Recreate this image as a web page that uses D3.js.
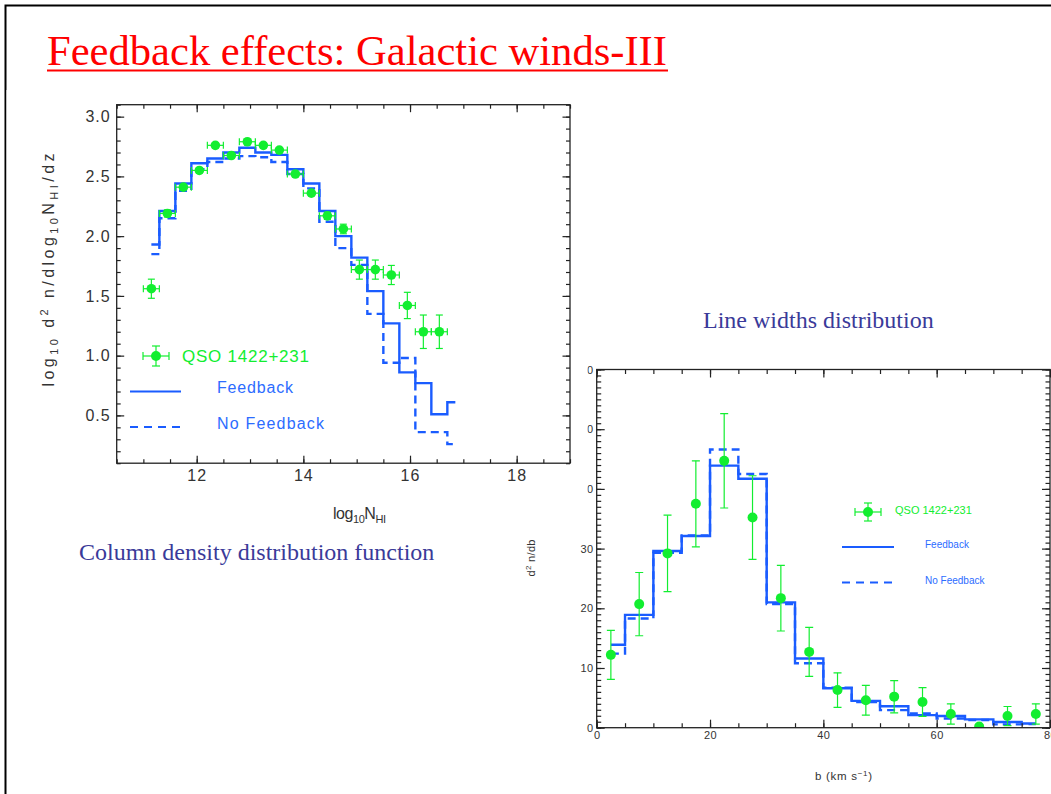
<!DOCTYPE html>
<html lang="en">
<head>
  <meta charset="UTF-8">
  <title>Feedback effects: Galactic winds-III</title>
  <script src="https://d3js.org/d3.v7.min.js"></script>
  <style>
    body { margin: 0; background: #fff; }
    svg { display: block; }
  </style>
</head>
<body>
<script>
// column density distribution (bin centres, 0.3 dex bins)
const nhiCenters = [11.15, 11.45, 11.75, 12.05, 12.35, 12.65, 12.95, 13.25, 13.55, 13.85,
                    14.15, 14.45, 14.75, 15.05, 15.35, 15.65, 15.95, 16.25, 16.55, 16.85];
const nhiFeedback   = [1.93, 2.21, 2.44, 2.61, 2.65, 2.70, 2.74, 2.70, 2.68, 2.56,
                       2.44, 2.21, 2.00, 1.82, 1.54, 1.27, 0.86, 0.77, 0.51, 0.61];
const nhiNoFeedback = [1.85, 2.15, 2.38, 2.56, 2.62, 2.65, 2.67, 2.66, 2.62, 2.52,
                       2.40, 2.12, 1.90, 1.76, 1.35, 0.94, 0.98, 0.36, 0.36, 0.26];
const qsoNhiX   = [11.15, 11.45, 11.75, 12.05, 12.35, 12.65, 12.95, 13.25, 13.55, 13.85,
                   14.15, 14.45, 14.75, 15.05, 15.35, 15.65, 15.95, 16.25, 16.55];
const qsoNhiY   = [1.56, 2.19, 2.41, 2.55, 2.76, 2.675, 2.79, 2.76, 2.72, 2.52,
                   2.36, 2.17, 2.06, 1.72, 1.72, 1.675, 1.42, 1.20, 1.20];
const qsoNhiErr = [0.08, 0.03, 0.02, 0.02, 0.02, 0.02, 0.02, 0.02, 0.02, 0.02,
                   0.02, 0.03, 0.04, 0.08, 0.08, 0.08, 0.11, 0.14, 0.14];
const nhiXTicks = [12, 14, 16, 18];
const nhiYTicks = [0.5, 1.0, 1.5, 2.0, 2.5, 3.0];

// line widths distribution (5 km/s bins)
const bCenters = [2.5, 7.5, 12.5, 17.5, 22.5, 27.5, 32.5, 37.5,
                  42.5, 47.5, 52.5, 57.5, 62.5, 67.5, 72.5, 77.5];
const bFeedback   = [13.9, 18.9, 29.6, 32.1, 43.9, 41.7, 21.0, 11.6,
                     6.6, 4.5, 3.6, 2.1, 1.95, 1.4, 0.95, 0.7];
const bNoFeedback = [12.4, 18.3, 29.3, 32.2, 46.6, 42.5, 20.7, 10.8,
                     6.7, 4.3, 2.95, 2.4, 1.55, 1.3, 0.55, 0.6];
const qsoB    = [12.2, 20.7, 29.2, 37.5, 44.7, 35.2, 21.7, 12.7,
                 6.3, 4.6, 5.2, 4.3, 2.3, 0.2, 1.95, 2.3];
const qsoBErr = [4.1, 5.3, 6.4, 7.2, 7.9, 7.0, 5.5, 4.1,
                 2.9, 2.5, 2.7, 2.4, 1.7, 0.0, 1.6, 1.7];
const bXTicks = [0, 20, 40, 60, 80];
const bYTicks = [0, 10, 20, 30, 40, 50, 60];

const green = "#12ee30";
const blue = "#1a5cff";
const textBlue = "#2c6cff";
const navy = "#3a3a99";
const sans = "Liberation Sans, Arial, sans-serif";
const serif = "Liberation Serif, Times New Roman, serif";

const svg = d3.select("body").append("svg")
  .attr("width", 1051)
  .attr("height", 794);

svg.append("rect").attr("width", 1051).attr("height", 794).attr("fill", "#fff");

// slide border
svg.append("path")
  .attr("d", "M5.5,794 V5.5 H1051")
  .attr("fill", "none")
  .attr("stroke", "#000")
  .attr("stroke-width", 2);

// title
svg.append("text")
  .attr("x", 47).attr("y", 65)
  .attr("font-family", serif)
  .attr("font-size", 42)
  .attr("fill", "#ff0000")
  .attr("textLength", 620)
  .attr("lengthAdjust", "spacingAndGlyphs")
  .text("Feedback effects: Galactic winds-III");
svg.append("line")
  .attr("x1", 47).attr("x2", 668).attr("y1", 70.5).attr("y2", 70.5)
  .attr("stroke", "#ff0000").attr("stroke-width", 2.2);

// draws a boxed frame with inward ticks on all four sides
function frame(g, x, y, o) {
  const [x0, x1] = x.range();
  const [y0, y1] = y.range();
  const sides = [
    { axis: d3.axisBottom(x), t: `translate(0,${y0})`, vals: o.xMinor, len: o.minor, lab: false },
    { axis: d3.axisBottom(x), t: `translate(0,${y0})`, vals: o.xMajor, len: o.major, lab: true },
    { axis: d3.axisTop(x), t: `translate(0,${y1})`, vals: o.xMinor, len: o.minor, lab: false },
    { axis: d3.axisTop(x), t: `translate(0,${y1})`, vals: o.xMajor, len: o.major, lab: false },
    { axis: d3.axisLeft(y), t: `translate(${x0},0)`, vals: o.yMinor, len: o.minor, lab: false },
    { axis: d3.axisLeft(y), t: `translate(${x0},0)`, vals: o.yMajor, len: o.major, lab: true, left: true },
    { axis: d3.axisRight(y), t: `translate(${x1},0)`, vals: o.yMinor, len: o.minor, lab: false },
    { axis: d3.axisRight(y), t: `translate(${x1},0)`, vals: o.yMajor, len: o.major, lab: false }
  ];
  sides.forEach(s => {
    const a = s.axis.tickValues(s.vals).tickSize(-s.len).tickPadding(s.left ? o.ypad : o.xpad);
    a.tickFormat(s.lab ? (s.left ? o.yFmt : o.xFmt) : "");
    const ag = g.append("g").attr("transform", s.t).call(a);
    ag.select(".domain").remove();
    ag.selectAll("line").attr("stroke", "#222").attr("stroke-width", 1.2);
    ag.selectAll("text")
      .attr("font-family", sans)
      .attr("font-size", o.fs)
      .attr("letter-spacing", o.ls || 0)
      .attr("fill", "#333");
  });
  g.append("rect")
    .attr("x", x0).attr("y", y1)
    .attr("width", x1 - x0).attr("height", y0 - y1)
    .attr("fill", "none").attr("stroke", "#222").attr("stroke-width", 1.3);
}

function errorPoints(g, data, x, y, o) {
  const pts = g.append("g").selectAll("g").data(data).join("g");
  pts.append("line")
    .attr("x1", d => x(d.x)).attr("x2", d => x(d.x))
    .attr("y1", d => y(d.y - d.e)).attr("y2", d => y(d.y + d.e))
    .attr("stroke", green).attr("stroke-width", 1.2);
  pts.filter(d => d.e > 0).selectAll(".cap").data(d => [[d.x, d.y - d.e], [d.x, d.y + d.e]]).join("line")
    .attr("x1", d => x(d[0]) - o.cap).attr("x2", d => x(d[0]) + o.cap)
    .attr("y1", d => y(d[1])).attr("y2", d => y(d[1]))
    .attr("stroke", green).attr("stroke-width", 1.2);
  if (o.xe) {
    pts.append("line")
      .attr("x1", d => x(d.x - o.xe)).attr("x2", d => x(d.x + o.xe))
      .attr("y1", d => y(d.y)).attr("y2", d => y(d.y))
      .attr("stroke", green).attr("stroke-width", 1.2);
    pts.selectAll(".xcap").data(d => [[d.x - o.xe, d.y], [d.x + o.xe, d.y]]).join("line")
      .attr("x1", d => x(d[0])).attr("x2", d => x(d[0]))
      .attr("y1", d => y(d[1]) - o.cap).attr("y2", d => y(d[1]) + o.cap)
      .attr("stroke", green).attr("stroke-width", 1.2);
  }
  pts.append("circle")
    .attr("cx", d => x(d.x)).attr("cy", d => y(d.y))
    .attr("r", o.r).attr("fill", green);
}

function legendDot(g, cx, cy, hx, hy, r) {
  g.append("line").attr("x1", cx - hx).attr("x2", cx + hx).attr("y1", cy).attr("y2", cy)
    .attr("stroke", green).attr("stroke-width", 1.2);
  g.append("line").attr("x1", cx).attr("x2", cx).attr("y1", cy - hy).attr("y2", cy + hy)
    .attr("stroke", green).attr("stroke-width", 1.2);
  [[cx - hx, cy - 4, cx - hx, cy + 4], [cx + hx, cy - 4, cx + hx, cy + 4],
   [cx - 4, cy - hy, cx + 4, cy - hy], [cx - 4, cy + hy, cx + 4, cy + hy]].forEach(c => {
    g.append("line").attr("x1", c[0]).attr("y1", c[1]).attr("x2", c[2]).attr("y2", c[3])
      .attr("stroke", green).attr("stroke-width", 1.2);
  });
  g.append("circle").attr("cx", cx).attr("cy", cy).attr("r", r).attr("fill", green);
}

// ---------------- right chart: line widths ----------------
const xR = d3.scaleLinear().domain([0, 80]).range([596.7, 1050]);
const yR = d3.scaleLinear().domain([0, 60]).range([727.7, 369.5]);
const gR = svg.append("g");

gR.append("clipPath").attr("id", "clipR")
  .append("rect").attr("x", 596.7).attr("y", 369.5).attr("width", 453.3).attr("height", 358.2);

const stepR = d3.line().curve(d3.curveStep).x(d => xR(d[0])).y(d => yR(d[1]));
const plotR = gR.append("g").attr("clip-path", "url(#clipR)");
plotR.append("path")
  .attr("d", stepR(bCenters.map((c, i) => [c, bNoFeedback[i]])))
  .attr("fill", "none").attr("stroke", blue).attr("stroke-width", 2.4)
  .attr("stroke-dasharray", "8,5");
plotR.append("path")
  .attr("d", stepR(bCenters.map((c, i) => [c, bFeedback[i]])))
  .attr("fill", "none").attr("stroke", blue).attr("stroke-width", 2.4);
errorPoints(plotR, bCenters.map((c, i) => ({ x: c, y: qsoB[i], e: qsoBErr[i] })), xR, yR, { r: 5, cap: 4 });

frame(gR, xR, yR, {
  xMajor: bXTicks, xMinor: d3.range(0, 81, 5),
  yMajor: bYTicks, yMinor: d3.range(0, 61, 1),
  major: 8, minor: 4.5, fs: 11, xpad: 4, ypad: 3, ls: 0.5,
  xFmt: d3.format("d"), yFmt: d3.format("d")
});

// legend (right)
legendDot(gR, 868, 512, 13, 9, 5);
gR.append("text").attr("x", 895).attr("y", 514).attr("fill", green)
  .attr("font-family", sans).attr("font-size", 11)
  .text("QSO 1422+231");
gR.append("line").attr("x1", 842).attr("x2", 894).attr("y1", 547).attr("y2", 547)
  .attr("stroke", blue).attr("stroke-width", 2.2);
gR.append("text").attr("x", 925).attr("y", 548).attr("fill", textBlue)
  .attr("font-family", sans).attr("font-size", 10)
  .text("Feedback");
gR.append("line").attr("x1", 842).attr("x2", 894).attr("y1", 582.5).attr("y2", 582.5)
  .attr("stroke", blue).attr("stroke-width", 2.2).attr("stroke-dasharray", "8,6");
gR.append("text").attr("x", 925).attr("y", 584).attr("fill", textBlue)
  .attr("font-family", sans).attr("font-size", 10)
  .text("No Feedback");

// axis titles (right)
const ylabR = gR.append("text")
  .attr("transform", "translate(535,558) rotate(-90)")
  .attr("text-anchor", "middle")
  .attr("font-family", sans).attr("font-size", 11)
  .attr("textLength", 37).attr("lengthAdjust", "spacing")
  .attr("fill", "#333");
ylabR.append("tspan").text("d");
ylabR.append("tspan").attr("dy", -4).attr("font-size", 8).text("2");
ylabR.append("tspan").attr("dy", 4).text(" n/db");

const xlabR = gR.append("text")
  .attr("x", 815).attr("y", 780)
  .attr("font-family", sans).attr("font-size", 11.5)
  .attr("textLength", 57).attr("lengthAdjust", "spacing")
  .attr("fill", "#333");
xlabR.append("tspan").text("b (km s");
xlabR.append("tspan").attr("dy", -4).attr("font-size", 8).text("\u22121");
xlabR.append("tspan").attr("dy", 4).text(")");

// left figure's white area overlaps the right chart's upper labels
svg.append("rect").attr("x", 6.5).attr("y", 90).attr("width", 581).attr("height", 440).attr("fill", "#fff");

// ---------------- left chart: column density ----------------
const xL = d3.scaleLinear().domain([10.5, 19]).range([116.7, 570]);
const yL = d3.scaleLinear().domain([0.1, 3.1]).range([463.2, 104.7]);
const gL = svg.append("g");

const stepL = d3.line().curve(d3.curveStep).x(d => xL(d[0])).y(d => yL(d[1]));
gL.append("path")
  .attr("d", stepL(nhiCenters.map((c, i) => [c, nhiNoFeedback[i]])))
  .attr("fill", "none").attr("stroke", blue).attr("stroke-width", 2.4)
  .attr("stroke-dasharray", "8,5");
gL.append("path")
  .attr("d", stepL(nhiCenters.map((c, i) => [c, nhiFeedback[i]])))
  .attr("fill", "none").attr("stroke", blue).attr("stroke-width", 2.4);
errorPoints(gL, qsoNhiX.map((c, i) => ({ x: c, y: qsoNhiY[i], e: qsoNhiErr[i] })), xL, yL,
  { r: 4.8, cap: 3.5, xe: 0.15 });

frame(gL, xL, yL, {
  xMajor: nhiXTicks, xMinor: d3.range(10.5, 19.01, 0.5),
  yMajor: nhiYTicks, yMinor: d3.range(0.1, 3.101, 0.1),
  major: 7.5, minor: 4, fs: 16, xpad: 6, ypad: 6, ls: 1,
  xFmt: d3.format("d"), yFmt: d3.format(".1f")
});

// legend (left)
legendDot(gL, 156, 356, 13, 10, 5);
gL.append("text").attr("x", 182).attr("y", 362).attr("fill", green)
  .attr("font-family", sans).attr("font-size", 17)
  .attr("textLength", 127).attr("lengthAdjust", "spacing")
  .text("QSO 1422+231");
gL.append("line").attr("x1", 130).attr("x2", 181).attr("y1", 391.5).attr("y2", 391.5)
  .attr("stroke", blue).attr("stroke-width", 2.2);
gL.append("text").attr("x", 217).attr("y", 393).attr("fill", textBlue)
  .attr("font-family", sans).attr("font-size", 16)
  .attr("textLength", 76).attr("lengthAdjust", "spacing")
  .text("Feedback");
gL.append("line").attr("x1", 130).attr("x2", 181).attr("y1", 427).attr("y2", 427)
  .attr("stroke", blue).attr("stroke-width", 2.2).attr("stroke-dasharray", "8,6");
gL.append("text").attr("x", 217).attr("y", 429).attr("fill", textBlue)
  .attr("font-family", sans).attr("font-size", 16)
  .attr("textLength", 107).attr("lengthAdjust", "spacing")
  .text("No Feedback");

// axis titles (left)
const ylabL = gL.append("text")
  .attr("transform", "translate(54,270) rotate(-90)")
  .attr("text-anchor", "middle")
  .attr("font-family", sans).attr("font-size", 16)
  .attr("textLength", 233).attr("lengthAdjust", "spacing")
  .attr("fill", "#333");
ylabL.append("tspan").text("log");
ylabL.append("tspan").attr("dy", 4).attr("font-size", 11).text("10");
ylabL.append("tspan").attr("dy", -4).text(" d");
ylabL.append("tspan").attr("dy", -6).attr("font-size", 11).text("2");
ylabL.append("tspan").attr("dy", 6).text(" n/dlog");
ylabL.append("tspan").attr("dy", 4).attr("font-size", 11).text("10");
ylabL.append("tspan").attr("dy", -4).text("N");
ylabL.append("tspan").attr("dy", 4).attr("font-size", 11).text("HI");
ylabL.append("tspan").attr("dy", -4).text("/dz");

const xlabL = gL.append("text")
  .attr("x", 333).attr("y", 519)
  .attr("font-family", sans).attr("font-size", 16)
  .attr("textLength", 53).attr("lengthAdjust", "spacing")
  .attr("fill", "#333");
xlabL.append("tspan").text("log");
xlabL.append("tspan").attr("dy", 4).attr("font-size", 11).text("10");
xlabL.append("tspan").attr("dy", -4).text("N");
xlabL.append("tspan").attr("dy", 4).attr("font-size", 11).text("HI");

// captions
svg.append("text").attr("x", 79).attr("y", 560)
  .attr("font-family", serif).attr("font-size", 24)
  .attr("fill", navy).text("Column density distribution function");
svg.append("text").attr("x", 703).attr("y", 328)
  .attr("font-family", serif).attr("font-size", 24)
  .attr("fill", navy).text("Line widths distribution");
</script>
</body>
</html>
